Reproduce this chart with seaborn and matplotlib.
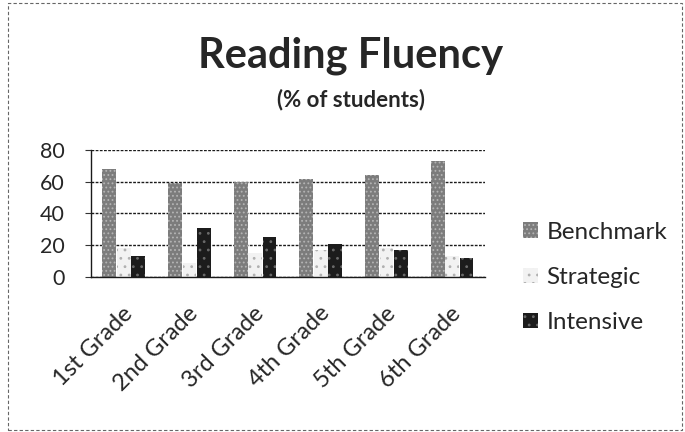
import pandas as pd
import matplotlib
matplotlib.use("Agg")
import matplotlib.pyplot as plt
import matplotlib.transforms as mtransforms
import seaborn as sns
from matplotlib.patches import Rectangle

# 数据
grades = ["1st Grade", "2nd Grade", "3rd Grade", "4th Grade", "5th Grade", "6th Grade"]
series_names = ["Benchmark", "Strategic", "Intensive"]
benchmark = [68, 59, 60, 62, 64, 73]
strategic = [18, 9, 15, 17, 18, 13]
intensive = [13, 31, 25, 21, 17, 12]
y_ticks = [0, 20, 40, 60, 80]

df = pd.DataFrame({
    "Grade": grades * 3,
    "Series": [s for s in series_names for _ in grades],
    "Value": benchmark + strategic + intensive,
})

sns.set_theme(style="white")
plt.rcParams["font.family"] = ["Lato", "DejaVu Sans"]
plt.rcParams["hatch.linewidth"] = 0.8

fig = plt.figure(figsize=(6.85, 4.32), dpi=100)
ax = fig.add_axes([0.1328, 0.3588, 0.5752, 0.294])

colors = {"Benchmark": "#7c7c7c", "Strategic": "#f2f2f2", "Intensive": "#1c1c1c"}
sns.barplot(data=df, x="Grade", y="Value", hue="Series", order=grades,
            hue_order=series_names, palette=colors, width=0.66, gap=0.05,
            saturation=1, ax=ax, legend=False)

# 纹理
hatches = {"Benchmark": ("....", "#b4b4b4"), "Strategic": ("..", "#b0b0b0"),
           "Intensive": ("..", "#6a6a6a")}
for cont, name in zip(ax.containers, series_names):
    h, ec = hatches[name]
    for bar in cont:
        bar.set_hatch(h)
        bar.set_edgecolor(ec)
        bar.set_linewidth(0)

ax.set_ylim(0, 80)
ax.set_yticks(y_ticks)
ax.set_yticklabels([str(v) for v in y_ticks], fontsize=15.5)
ax.set_xlabel("")
ax.set_ylabel("")
ax.tick_params(axis="y", length=4, width=0.8, color="#333333", pad=15, left=True)
ax.tick_params(axis="x", length=0, pad=4)
ax.set_xticks(range(len(grades)))
ax.set_xticklabels(grades, rotation=45, ha="right", rotation_mode="anchor", fontsize=17)
offset = mtransforms.ScaledTranslation(-0.02, -0.20, fig.dpi_scale_trans)
for lbl in ax.get_xticklabels():
    lbl.set_transform(lbl.get_transform() + offset)
ax.yaxis.grid(True, color="#1a1a1a", linestyle=(0, (2, 1)), linewidth=1.0)
ax.set_axisbelow(True)
for side in ["top", "right"]:
    ax.spines[side].set_visible(False)
for side in ["left", "bottom"]:
    ax.spines[side].set_color("#1a1a1a")
    ax.spines[side].set_linewidth(1.0)
    ax.spines[side].set_linestyle((0, (2, 1)))

# 标题
fig.text(0.512, 0.87, "Reading Fluency", ha="center", va="center",
         fontsize=30, fontweight="bold")
fig.text(0.512, 0.769, "(% of students)", ha="center", va="center",
         fontsize=16, fontweight="bold")

# 图例
handles = []
for name in series_names:
    h, ec = hatches[name]
    handles.append(Rectangle((0, 0), 1, 1, facecolor=colors[name], hatch=h,
                             edgecolor=ec, linewidth=0))
fig.legend(handles, series_names, loc="center left", bbox_to_anchor=(0.764, 0.358),
           frameon=False, fontsize=17.5, handlelength=0.6, handleheight=0.6,
           handletextpad=0.35, labelspacing=1.0, borderpad=0, borderaxespad=0)

# 外框
fig.patches.append(Rectangle((0.011, 0.004), 0.985, 0.99, transform=fig.transFigure,
                             fill=False, edgecolor="#666666", linewidth=0.8,
                             linestyle=(0, (3, 2))))

fig.savefig("out.png", dpi=100)
